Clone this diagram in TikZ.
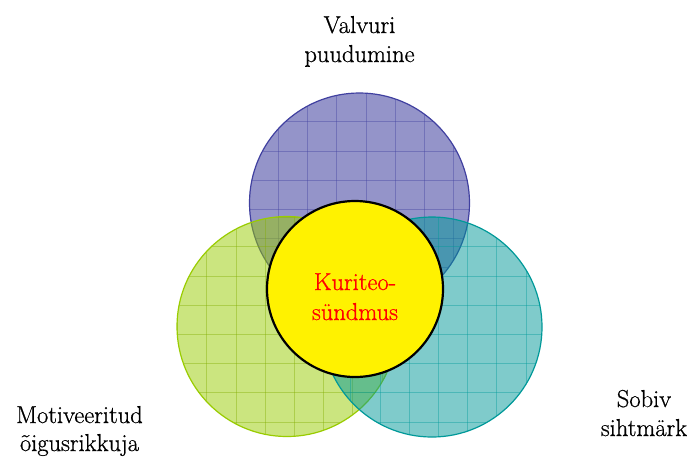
\documentclass[tikz,border=0pt]{standalone}
\usepackage{fontspec}
\newfontfamily\lblfont{Latin Modern Roman}[FakeBold=0.7]
\definecolor{pfill}{RGB}{51,51,153}
\definecolor{pedge}{RGB}{64,64,160}
\definecolor{gfill}{RGB}{153,204,0}
\definecolor{gedge}{RGB}{153,204,0}
\definecolor{tfill}{RGB}{0,153,153}
\definecolor{tedge}{RGB}{0,153,153}
\definecolor{kred}{RGB}{255,0,0}
\begin{document}
\begin{tikzpicture}[x=1pt,y=-1pt,
  lbl/.style={anchor=base,inner sep=0pt,font=\lblfont\fontsize{24.5}{30}\selectfont},
  ring/.style={line width=1.2pt},
  gridline/.style={line width=0.8pt,opacity=0.4}]
\useasboundingbox (0,0) rectangle (693,459);
\fill[white] (0,0) rectangle (693,459);
% purple circle
\fill[pfill,opacity=0.52] (359.5,203) circle[radius=110pt];
\begin{scope}
  \clip (359.5,203) circle[radius=110pt];
  \foreach \i in {0,...,9} {\draw[gridline,pedge] ({249.1+\i*29.2},90) -- ({249.1+\i*29.2},320);}
  \foreach \j in {0,...,8} {\draw[gridline,pedge] (245,{92.5+\j*29.2}) -- (475,{92.5+\j*29.2});}
\end{scope}
\draw[ring,pedge] (359.5,203) circle[radius=110pt];
% green circle
\fill[gfill,opacity=0.5] (287,326.5) circle[radius=110pt];
\begin{scope}
  \clip (287,326.5) circle[radius=110pt];
  \foreach \i in {0,...,9} {\draw[gridline,gedge!85!black] ({177.5+\i*29.2},210) -- ({177.5+\i*29.2},440);}
  \foreach \j in {0,...,8} {\draw[gridline,gedge!85!black] (170,{217.5+\j*29.2}) -- (400,{217.5+\j*29.2});}
\end{scope}
\draw[ring,gedge] (287,326.5) circle[radius=110pt];
% teal circle
\fill[tfill,opacity=0.5] (432,327) circle[radius=110pt];
\begin{scope}
  \clip (432,327) circle[radius=110pt];
  \foreach \i in {0,...,9} {\draw[gridline,tedge] ({321.6+\i*29.2},210) -- ({321.6+\i*29.2},440);}
  \foreach \j in {0,...,8} {\draw[gridline,tedge] (315,{217.5+\j*29.2}) -- (545,{217.5+\j*29.2});}
\end{scope}
\draw[ring,tedge] (432,327) circle[radius=110pt];
% central circle
\node[circle,draw=black,fill=yellow,line width=2.2pt,minimum size=176pt,inner sep=0pt] (core) at (355,289) {};
\node[lbl,text=kred] (k1) at (355,290) {Kuriteo-};
\node[lbl,text=kred] (k2) at (355,320) {sündmus};
% labels
\node[lbl] (v1) at (359.5,33) {Valvuri};
\node[lbl] (v2) at (359.5,62) {puudumine};
\node[lbl] (m1) at (79.5,423) {Motiveeritud};
\node[lbl] (m2) at (79.5,451) {õigusrikkuja};
\node[lbl] (s1) at (644,407) {Sobiv};
\node[lbl] (s2) at (644,436) {sihtmärk};
\end{tikzpicture}
\end{document}
